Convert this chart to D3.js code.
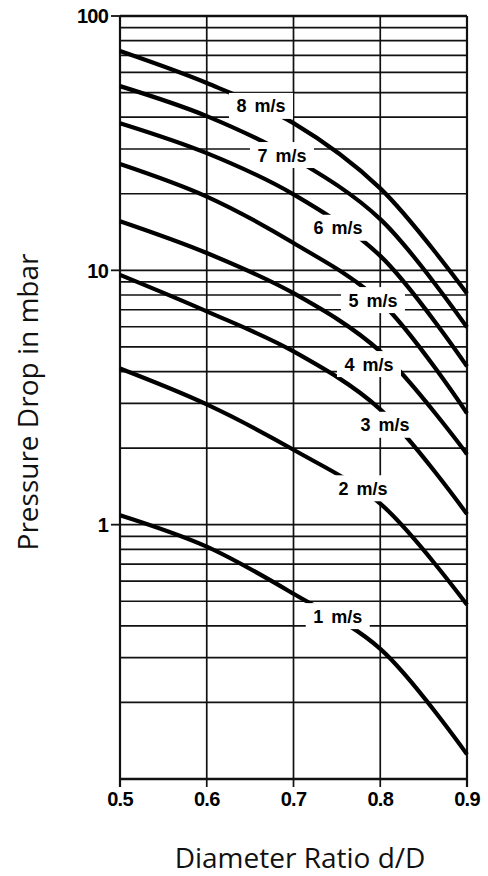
<!DOCTYPE html>
<html lang="en">
<head>
<meta charset="utf-8">
<title>Pressure Drop vs Diameter Ratio</title>
<style>
  body { margin: 0; background: #fff; }
  svg { display: block; }
</style>
</head>
<body>
<svg id="chart" width="488" height="876"></svg>
<script src="https://cdn.jsdelivr.net/npm/d3@7"></script>
<script>
// diameter ratio d/D where each curve was read
const ratios = [0.5, 0.6, 0.7, 0.8, 0.9]

// pressure drop in mbar, one array per flow speed
const drop1 = [1.09, 0.82, 0.535, 0.325, 0.125]
const drop2 = [4.11, 2.97, 1.97, 1.21, 0.484]
const drop3 = [9.6, 6.9, 4.8, 2.84, 1.10]
const drop4 = [15.6, 11.7, 8.13, 4.8, 1.89]
const drop5 = [26.2, 19.5, 12.8, 7.55, 2.74]
const drop6 = [37.9, 28.9, 19.9, 11.4, 4.19]
const drop7 = [53, 40.4, 27.6, 15.9, 5.97]
const drop8 = [72.8, 54.5, 37.9, 21, 8.1]

const speedLabels = ["1 m/s", "2 m/s", "3 m/s", "4 m/s", "5 m/s", "6 m/s", "7 m/s", "8 m/s"]
// where each label sits, as [d/D, mbar]
const labelAt = [
    [0.751, 0.437], [0.780, 1.39], [0.8055, 2.47], [0.787, 4.28],
    [0.7916, 7.64], [0.7513, 14.7], [0.6867, 28.4], [0.6625, 44.3]
]

const xTicks = [0.5, 0.6, 0.7, 0.8, 0.9]
const yTickLabels = [1, 10, 100]

const drops = [drop1, drop2, drop3, drop4, drop5, drop6, drop7, drop8]

let svg = d3.select("#chart")

let x = d3.scaleLinear()
    .domain([0.5, 0.9])
    .range([120, 467])

let y = d3.scaleLog()
    .domain([0.1, 100])
    .range([779, 16])

let grid = svg.append("g")
    .attr("stroke", "#111")
    .attr("fill", "none")

// horizontal log grid, 2..9 in each decade
grid.selectAll("line.h")
    .data(y.ticks())
    .join("line")
    .attr("class", "h")
    .attr("x1", x(0.5))
    .attr("x2", x(0.9))
    .attr("y1", d => y(d))
    .attr("y2", d => y(d))
    .attr("stroke-width", d => (d === 100 || d === 0.1) ? 2.6 : 1.7)

// vertical grid lines, run a little below the frame as ticks
grid.selectAll("line.v")
    .data(xTicks)
    .join("line")
    .attr("class", "v")
    .attr("x1", d => x(d))
    .attr("x2", d => x(d))
    .attr("y1", y(100))
    .attr("y2", y(0.1) + 8)
    .attr("stroke-width", d => (d === 0.5 || d === 0.9) ? 2.2 : 1.7)

// left ticks at the labelled decades
grid.selectAll("line.t")
    .data(yTickLabels)
    .join("line")
    .attr("class", "t")
    .attr("x1", x(0.5) - 9)
    .attr("x2", x(0.5))
    .attr("y1", d => y(d))
    .attr("y2", d => y(d))
    .attr("stroke-width", 1.8)

let line = d3.line()
    .x((d, i) => x(ratios[i]))
    .y(d => y(d))
    .curve(d3.curveCatmullRom.alpha(0.5))

svg.append("g")
    .selectAll("path")
    .data(drops)
    .join("path")
    .attr("d", d => line(d))
    .attr("fill", "none")
    .attr("stroke", "#000")
    .attr("stroke-width", 4.2)
    .attr("stroke-linecap", "butt")

// curve labels on white patches that cut the curves and grid
let labels = svg.append("g")
    .selectAll("g")
    .data(speedLabels)
    .join("g")
    .attr("transform", (d, i) => `translate(${x(labelAt[i][0])},${y(labelAt[i][1])})`)

labels.append("rect")
    .attr("x", -32)
    .attr("y", -13)
    .attr("width", 64)
    .attr("height", 26)
    .attr("fill", "#fff")

labels.append("text")
    .text(d => d)
    .attr("text-anchor", "middle")
    .attr("dy", "0.36em")
    .attr("font-family", "Liberation Sans, Arial, sans-serif")
    .attr("font-weight", "bold")
    .attr("font-size", 18)
    .attr("word-spacing", 3)
    .attr("fill", "#000")

// tick labels
svg.append("g")
    .selectAll("text")
    .data(xTicks)
    .join("text")
    .attr("x", d => x(d))
    .attr("y", 806)
    .attr("text-anchor", "middle")
    .attr("font-family", "Liberation Sans, Arial, sans-serif")
    .attr("font-weight", "bold")
    .attr("font-size", 20)
    .attr("letter-spacing", -0.8)
    .text(d3.format(".1f"))

svg.append("g")
    .selectAll("text")
    .data(yTickLabels)
    .join("text")
    .attr("x", 108)
    .attr("y", d => y(d))
    .attr("dy", "0.36em")
    .attr("text-anchor", "end")
    .attr("font-family", "Liberation Sans, Arial, sans-serif")
    .attr("font-weight", "bold")
    .attr("font-size", 20)
    .attr("letter-spacing", -0.8)
    .text(d => d)

// axis titles
svg.append("text")
    .attr("x", 300)
    .attr("y", 868)
    .attr("text-anchor", "middle")
    .attr("font-family", "Open Sans, sans-serif")
    .attr("font-size", 28)
    .attr("fill", "#111")
    .text("Diameter Ratio d/D")

svg.append("text")
    .attr("transform", "translate(38,402) rotate(-90)")
    .attr("text-anchor", "middle")
    .attr("font-family", "Open Sans, sans-serif")
    .attr("font-size", 28)
    .attr("fill", "#111")
    .text("Pressure Drop in mbar")
</script>
</body>
</html>
